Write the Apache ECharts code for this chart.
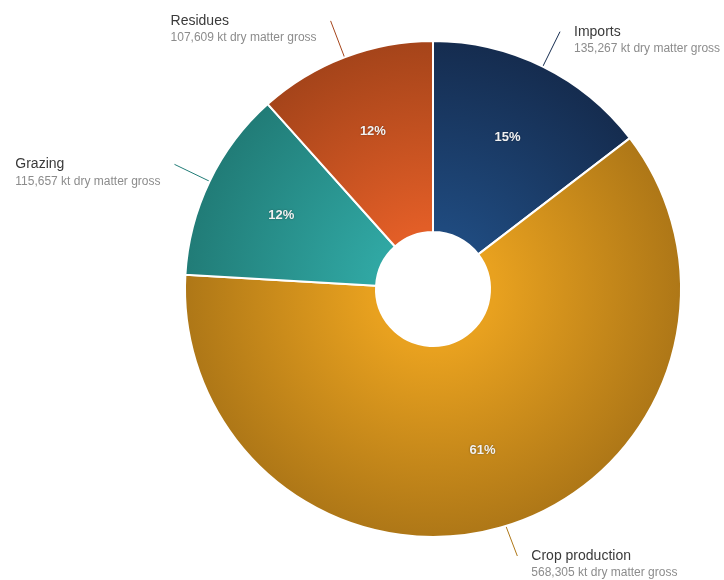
<!DOCTYPE html>
<html>
<head>
<meta charset="utf-8">
<script src="https://cdn.jsdelivr.net/npm/echarts@6/dist/echarts.min.js"></script>
<style>
html,body{margin:0;padding:0;background:#fff;}
#chart{width:724px;height:580px;}
</style>
</head>
<body>
<div id="chart"></div>
<script>
const categories = ['Imports', 'Crop production', 'Grazing', 'Residues'];
const values = [135267, 568305, 115657, 107609];
const unitText = 'kt dry matter gross';
const innerColors = ['#1f4a7e', '#e8a11f', '#30a7a3', '#e25e27'];
const outerColors = ['#152c4f', '#ae7717', '#217c77', '#a5441a'];

const cx = 433, cy = 289, rOuter = 248, rInner = 57;

function grad(i) {
  return new echarts.graphic.RadialGradient(cx, cy, rOuter, [
    { offset: 0, color: innerColors[i] },
    { offset: 0.25, color: innerColors[i] },
    { offset: 1, color: outerColors[i] }
  ], true);
}
function fmt(n) { return n.toLocaleString('en-US'); }

const data = categories.map((c, i) => ({
  name: c, value: values[i],
  itemStyle: { color: grad(i) },
  labelLine: { lineStyle: { color: outerColors[i] } }
}));

const chart = echarts.init(document.getElementById('chart'));
chart.setOption({
  animation: false,
  series: [{
    type: 'pie',
    center: [cx, cy],
    radius: [rInner, rOuter],
    startAngle: 90,
    clockwise: true,
    data: data,
    itemStyle: { borderColor: '#ffffff', borderWidth: 2 },
    label: {
      position: 'outside',
      distanceToLabelLine: 14,
      edgeDistance: 0,
      overflow: 'none',
      padding: [16, 0, 0, 0],
      formatter: p => '{n|' + p.name + '}\n{v|' + fmt(p.value) + ' ' + unitText + '}',
      rich: {
        n: { fontFamily: 'Liberation Sans', fontSize: 14, color: '#3a3a3a', lineHeight: 18, align: 'left' },
        v: { fontFamily: 'Liberation Sans', fontSize: 12, color: '#8c8c8c', lineHeight: 16, align: 'left' }
      }
    },
    labelLine: { show: true, length: 39, length2: 0, smooth: false, lineStyle: { width: 1 } }
  }, {
    type: 'pie',
    center: [cx, cy],
    radius: [83, rOuter],
    startAngle: 90,
    clockwise: true,
    silent: true,
    data: categories.map((c, i) => ({ name: c, value: values[i] })),
    itemStyle: { color: 'rgba(0,0,0,0)', borderWidth: 0 },
    label: {
      position: 'inside',
      formatter: p => Math.round(p.percent) + '%',
      color: '#f2f2f2',
      fontFamily: 'Liberation Sans',
      fontWeight: 'bold',
      fontSize: 13,
      textShadowColor: 'rgba(0,0,0,0.4)',
      textShadowBlur: 2
    },
    labelLine: { show: false }
  }]
});
</script>
</body>
</html>
